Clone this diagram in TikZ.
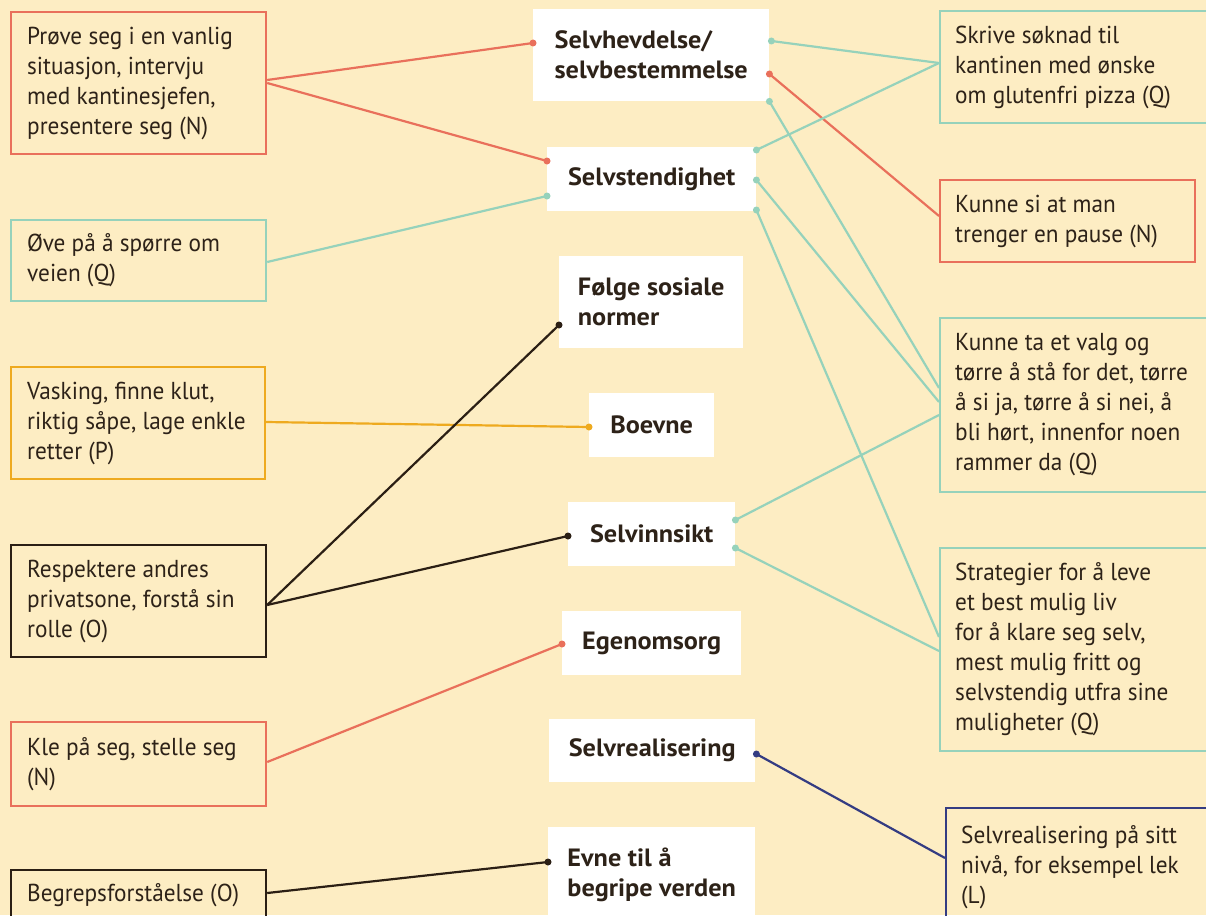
\documentclass[tikz,border=0pt]{standalone}
\usepackage{fontspec}
\setmainfont{PT Sans}[FakeStretch=0.95, BoldFeatures={FakeStretch=1.05}]
\definecolor{bg}{HTML}{FDEDC3}
\definecolor{txt}{HTML}{2D2218}
\definecolor{cred}{HTML}{E9705B}
\definecolor{cteal}{HTML}{96D2BB}
\definecolor{corange}{HTML}{EEAA1F}
\definecolor{cdark}{HTML}{2B1F14}
\definecolor{cnavy}{HTML}{343C82}
\begin{document}
\begin{tikzpicture}[x=1pt,y=-1pt,
  sbox/.style={draw, line width=2.2pt, anchor=north west, inner sep=0pt},
  stext/.style={anchor=west, align=left, inner sep=0pt, text=txt,
    font=\fontsize{24.5}{30}\selectfont},
  cbox/.style={fill=white, anchor=north west, inner sep=0pt, align=left, text=txt,
    font=\fontsize{25}{30}\selectfont\bfseries},
  conn/.style={line width=2.2pt},
  enddot/.style={circle, fill, inner sep=0pt, minimum size=7pt}]
\useasboundingbox (0,0) rectangle (1206,915);
\fill[bg] (0,0) rectangle (1206,915);
\clip (0,0) rectangle (1206,915);

% left boxes
\node[sbox, draw=cred, minimum width=255pt, minimum height=142pt] (L1) at (10,11) {};
\node[stext] (L1t) at ([xshift=17pt]L1.west) {Prøve seg i en vanlig\\situasjon, intervju\\med kantinesjefen,\\presentere seg (N)};
\node[sbox, draw=cteal, minimum width=255pt, minimum height=81pt] (L2) at (10,219) {};
\node[stext] (L2t) at ([xshift=17pt]L2.west) {Øve på å spørre om\\veien (Q)};
\node[sbox, draw=corange, minimum width=254pt, minimum height=112pt] (L3) at (10,366) {};
\node[stext] (L3t) at ([xshift=17pt]L3.west) {Vasking, finne klut,\\riktig såpe, lage enkle\\retter (P)};
\node[sbox, draw=cdark, minimum width=255pt, minimum height=112pt] (L4) at (10,544) {};
\node[stext] (L4t) at ([xshift=17pt]L4.west) {Respektere andres\\privatsone, forstå sin\\rolle (O)};
\node[sbox, draw=cred, minimum width=255pt, minimum height=84pt] (L5) at (10,721) {};
\node[stext] (L5t) at ([xshift=17pt]L5.west) {Kle på seg, stelle seg\\(N)};
\node[sbox, draw=cdark, minimum width=255pt, minimum height=50pt] (L6) at (10,869) {};
\node[stext] (L6t) at ([xshift=17pt]L6.west) {Begrepsforståelse (O)};

% centre boxes
\node[cbox, minimum width=236pt, minimum height=92pt] (C1) at (533,9) {Selvhevdelse/\\selvbestemmelse};
\node[cbox, minimum width=209pt, minimum height=64pt] (C2) at (547,147) {Selvstendighet};
\node[cbox, minimum width=184pt, minimum height=92pt] (C3) at (559,256) {Følge sosiale\\normer};
\node[cbox, minimum width=125pt, minimum height=64pt] (C4) at (589,393) {Boevne};
\node[cbox, minimum width=167pt, minimum height=64pt] (C5) at (568,502) {Selvinnsikt};
\node[cbox, minimum width=179pt, minimum height=64pt] (C6) at (562,611) {Egenomsorg};
\node[cbox, minimum width=206pt, minimum height=63pt] (C7) at (549,719) {Selvrealisering};
\node[cbox, minimum width=207pt, minimum height=96pt] (C8) at (548,827) {Evne til å\\begripe verden};

% right boxes
\node[sbox, draw=cteal, minimum width=300pt, minimum height=112pt] (R1) at (939,10) {};
\node[stext] (R1t) at ([xshift=16pt]R1.west) {Skrive søknad til\\kantinen med ønske\\om glutenfri pizza (Q)};
\node[sbox, draw=cred, minimum width=255pt, minimum height=82pt] (R2) at (939,179) {};
\node[stext] (R2t) at ([xshift=16pt]R2.west) {Kunne si at man\\trenger en pause (N)};
\node[sbox, draw=cteal, minimum width=300pt, minimum height=174pt] (R3) at (939,317) {};
\node[stext] (R3t) at ([xshift=16pt]R3.west) {Kunne ta et valg og\\tørre å stå for det, tørre\\å si ja, tørre å si nei, å\\bli hørt, innenfor noen\\rammer da (Q)};
\node[sbox, draw=cteal, minimum width=300pt, minimum height=203pt] (R4) at (939,547) {};
\node[stext] (R4t) at ([xshift=16pt]R4.west) {Strategier for å leve\\et best mulig liv\\for å klare seg selv,\\mest mulig fritt og\\selvstendig utfra sine\\muligheter (Q)};
\node[sbox, draw=cnavy, minimum width=300pt, minimum height=118pt] (R5) at (945,807) {};
\node[stext] (R5t) at ([xshift=16pt]R5.west) {Selvrealisering på sitt\\nivå, for eksempel lek\\(L)};

% connectors
\draw[conn, cred] ([yshift=-69pt]L1.north east) -- ([yshift=-34pt]C1.north west) node[enddot] (d1) {};
\draw[conn, cred] ([yshift=-72pt]L1.north east) -- ([yshift=-14pt]C2.north west) node[enddot] (d2) {};
\draw[conn, cteal] ([yshift=-43pt]L2.north east) -- ([yshift=-49pt]C2.north west) node[enddot] (d3) {};
\draw[conn, cteal] ([yshift=-53pt]R1.north west) -- ([xshift=2pt,yshift=-32pt]C1.north east) node[enddot] (d4) {};
\draw[conn, cred] ([yshift=-37pt]R2.north west) -- ([yshift=-65pt]C1.north east) node[enddot] (d5) {};
\draw[conn, cteal] ([yshift=-71pt]R3.north west) -- (C1.south east) node[enddot] (d6) {};
\draw[conn, cteal] ([yshift=-53pt]R1.north west) -- ([yshift=-3pt]C2.north east) node[enddot] (d7) {};
\draw[conn, cteal] ([yshift=-85pt]R3.north west) -- ([yshift=-33pt]C2.north east) node[enddot] (d8) {};
\draw[conn, cteal] ([yshift=-90pt]R4.north west) -- ([yshift=-63pt]C2.north east) node[enddot] (d9) {};
\draw[conn, corange] ([yshift=-56pt]L3.north east) -- ([yshift=-34pt]C4.north west) node[enddot] (d10) {};
\draw[conn, cdark] ([yshift=-61pt]L4.north east) -- ([yshift=-69pt]C3.north west) node[enddot] (d11) {};
\draw[conn, cdark] ([yshift=-61pt]L4.north east) -- ([yshift=-34pt]C5.north west) node[enddot] (d12) {};
\draw[conn, cteal] ([yshift=-98pt]R3.north west) -- ([yshift=-18pt]C5.north east) node[enddot] (d13) {};
\draw[conn, cteal] ([yshift=-104pt]R4.north west) -- ([yshift=-46pt]C5.north east) node[enddot] (d14) {};
\draw[conn, cred] ([yshift=-41pt]L5.north east) -- ([yshift=-33pt]C6.north west) node[enddot] (d15) {};
\draw[conn, cnavy] ([yshift=-51pt]R5.north west) -- ([xshift=1pt,yshift=-35pt]C7.north east) node[enddot] (d16) {};
\draw[conn, cdark] ([yshift=-24pt]L6.north east) -- ([yshift=-35pt]C8.north west) node[enddot] (d17) {};
\end{tikzpicture}
\end{document}
